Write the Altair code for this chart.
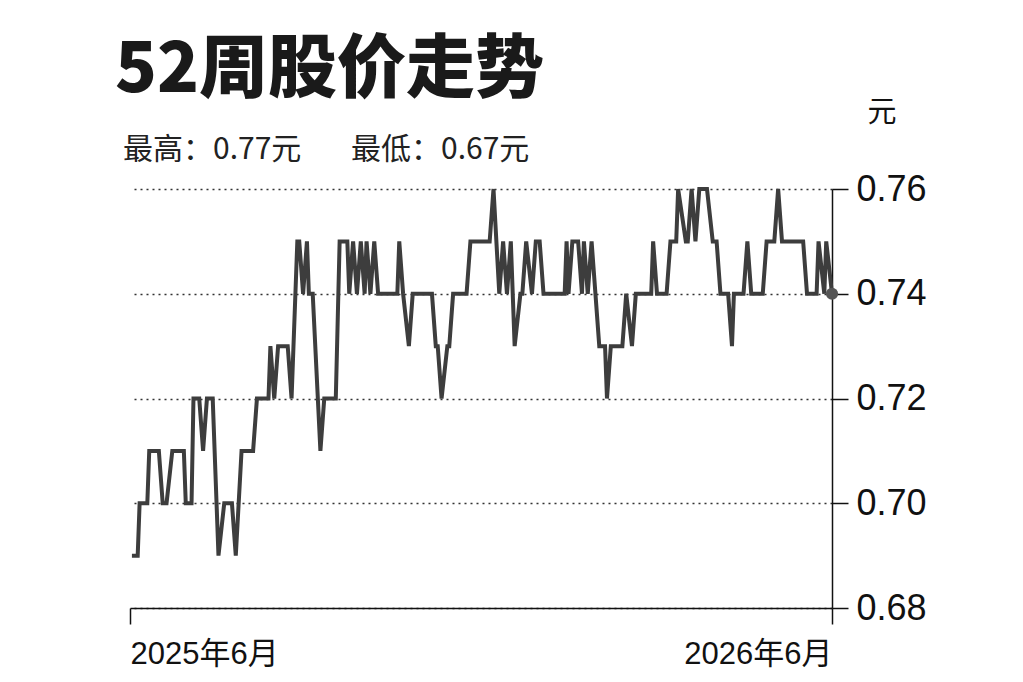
import altair as alt
import pandas as pd

# daily close (vertices of the step-like line)
dates = [
    "2025-06-02", "2025-06-05", "2025-06-06", "2025-06-10", "2025-06-11", "2025-06-16",
    "2025-06-18", "2025-06-20", "2025-06-23", "2025-06-29", "2025-06-30", "2025-07-03",
    "2025-07-04", "2025-07-07", "2025-07-09", "2025-07-11", "2025-07-14", "2025-07-17",
    "2025-07-20", "2025-07-24", "2025-07-26", "2025-07-29", "2025-08-04", "2025-08-06",
    "2025-08-12", "2025-08-13", "2025-08-15", "2025-08-17", "2025-08-22", "2025-08-24",
    "2025-08-27", "2025-08-28", "2025-08-30", "2025-09-01", "2025-09-02", "2025-09-04",
    "2025-09-08", "2025-09-10", "2025-09-16", "2025-09-18", "2025-09-22", "2025-09-23",
    "2025-09-25", "2025-09-27", "2025-09-29", "2025-10-01", "2025-10-02", "2025-10-04",
    "2025-10-06", "2025-10-08", "2025-10-18", "2025-10-19", "2025-10-21", "2025-10-24",
    "2025-10-26", "2025-11-05", "2025-11-07", "2025-11-08", "2025-11-10", "2025-11-13",
    "2025-11-14", "2025-11-16", "2025-11-23", "2025-11-25", "2025-12-05", "2025-12-07",
    "2025-12-10", "2025-12-12", "2025-12-14", "2025-12-16", "2025-12-18", "2025-12-21",
    "2025-12-22", "2025-12-24", "2025-12-27", "2025-12-29", "2025-12-31", "2026-01-02",
    "2026-01-13", "2026-01-14", "2026-01-15", "2026-01-17", "2026-01-20", "2026-01-22",
    "2026-01-23", "2026-01-25", "2026-01-27", "2026-01-31", "2026-02-03", "2026-02-04",
    "2026-02-06", "2026-02-12", "2026-02-14", "2026-02-17", "2026-02-19", "2026-02-27",
    "2026-02-28", "2026-03-02", "2026-03-07", "2026-03-09", "2026-03-12", "2026-03-13",
    "2026-03-17", "2026-03-18", "2026-03-20", "2026-03-22", "2026-03-24", "2026-03-25",
    "2026-03-28", "2026-03-31", "2026-04-02", "2026-04-04", "2026-04-08", "2026-04-10",
    "2026-04-11", "2026-04-16", "2026-04-18", "2026-04-20", "2026-04-26", "2026-04-28",
    "2026-05-02", "2026-05-04", "2026-05-06", "2026-05-17", "2026-05-19", "2026-05-24",
    "2026-05-25", "2026-05-28", "2026-05-29", "2026-06-01",
]
prices = [
    0.69, 0.69, 0.70, 0.70, 0.71, 0.71,
    0.70, 0.70, 0.71, 0.71, 0.70, 0.70,
    0.72, 0.72, 0.71, 0.72, 0.72, 0.69,
    0.70, 0.70, 0.69, 0.71, 0.71, 0.72,
    0.72, 0.73, 0.72, 0.73, 0.73, 0.72,
    0.75, 0.75, 0.74, 0.75, 0.74, 0.74,
    0.71, 0.72, 0.72, 0.75, 0.75, 0.74,
    0.75, 0.74, 0.75, 0.74, 0.75, 0.74,
    0.75, 0.74, 0.74, 0.75, 0.74, 0.73,
    0.74, 0.74, 0.73, 0.73, 0.72, 0.73,
    0.73, 0.74, 0.74, 0.75, 0.75, 0.76,
    0.74, 0.75, 0.74, 0.75, 0.73, 0.74,
    0.74, 0.75, 0.74, 0.75, 0.75, 0.74,
    0.74, 0.75, 0.74, 0.75, 0.75, 0.74,
    0.75, 0.74, 0.75, 0.73, 0.73, 0.72,
    0.73, 0.73, 0.74, 0.73, 0.74, 0.74,
    0.75, 0.74, 0.74, 0.75, 0.75, 0.76,
    0.75, 0.75, 0.76, 0.75, 0.76, 0.76,
    0.76, 0.75, 0.75, 0.74, 0.74, 0.73,
    0.74, 0.74, 0.75, 0.74, 0.74, 0.75,
    0.75, 0.76, 0.75, 0.75, 0.74, 0.74,
    0.75, 0.74, 0.75, 0.74,
]

price_ticks = [0.68, 0.70, 0.72, 0.74, 0.76]
title_text = "52周股价走势"
high_text = "最高：0.77元"
low_text = "最低：0.67元"
unit_text = "元"

CJK = "Noto Sans CJK SC"
NARROW = "Liberation Sans Narrow, Liberation Sans, Noto Sans CJK SC"

df = pd.DataFrame({"date": pd.to_datetime(dates), "price": prices})
last = df.tail(1)

start = alt.DateTime(year=2025, month=6, date=1)
end = alt.DateTime(year=2026, month=6, date=1)

x = alt.X(
    "date:T",
    title=None,
    scale=alt.Scale(domain=[start, end]),
    axis=alt.Axis(
        values=[start, end],
        format="%Y年%-m月",
        labelFlush=True,
        labelFont=NARROW,
        labelFontSize=31,
        labelColor="#111",
        labelPadding=15,
        tickSize=16,
        tickColor="#111",
        tickWidth=1.5,
        domainColor="#111",
        domainWidth=1.5,
        grid=False,
    ),
)
y = alt.Y(
    "price:Q",
    title=None,
    scale=alt.Scale(domain=[0.68, 0.76], nice=False, zero=False),
    axis=alt.Axis(
        orient="right",
        values=price_ticks,
        format=".2f",
        labelFont=NARROW,
        labelFontSize=36,
        labelColor="#111",
        labelPadding=8,
        tickSize=16,
        tickColor="#111",
        tickWidth=1.5,
        domainColor="#111",
        domainWidth=1.5,
        grid=True,
        gridColor="#333",
        gridDash=[2, 4],
        gridWidth=1.5,
    ),
)

line = alt.Chart(df).mark_line(color="#3d3d3d", strokeWidth=4).encode(x=x, y=y)
dot = alt.Chart(last).mark_circle(size=150, color="#555", opacity=1).encode(x=x, y=y)


def label(text, px, py, size, weight="normal", align="left", color="#222"):
    return alt.Chart(pd.DataFrame({"t": [text]})).mark_text(
        align=align, baseline="alphabetic", font=CJK, fontSize=size,
        fontWeight=weight, color=color,
    ).encode(x=alt.value(px), y=alt.value(py), text="t:N")


title = label(title_text, -15, -97, 69, weight=900, color="#1a1a1a")
high = label(high_text, -7, -30, 30)
low = label(low_text, 221, -30, 30)
unit = label(unit_text, 752, -67, 29, align="center", color="#111")

chart = alt.layer(line, dot, title, high, low, unit).properties(
    width=702,
    height=419,
    autosize=alt.AutoSizeParams(type="none"),
    padding={"left": 122, "top": 181, "right": 170, "bottom": 66},
    background="white",
).configure_view(stroke=None)

chart.save("out.html", embed_options={"renderer": "svg", "actions": False})
